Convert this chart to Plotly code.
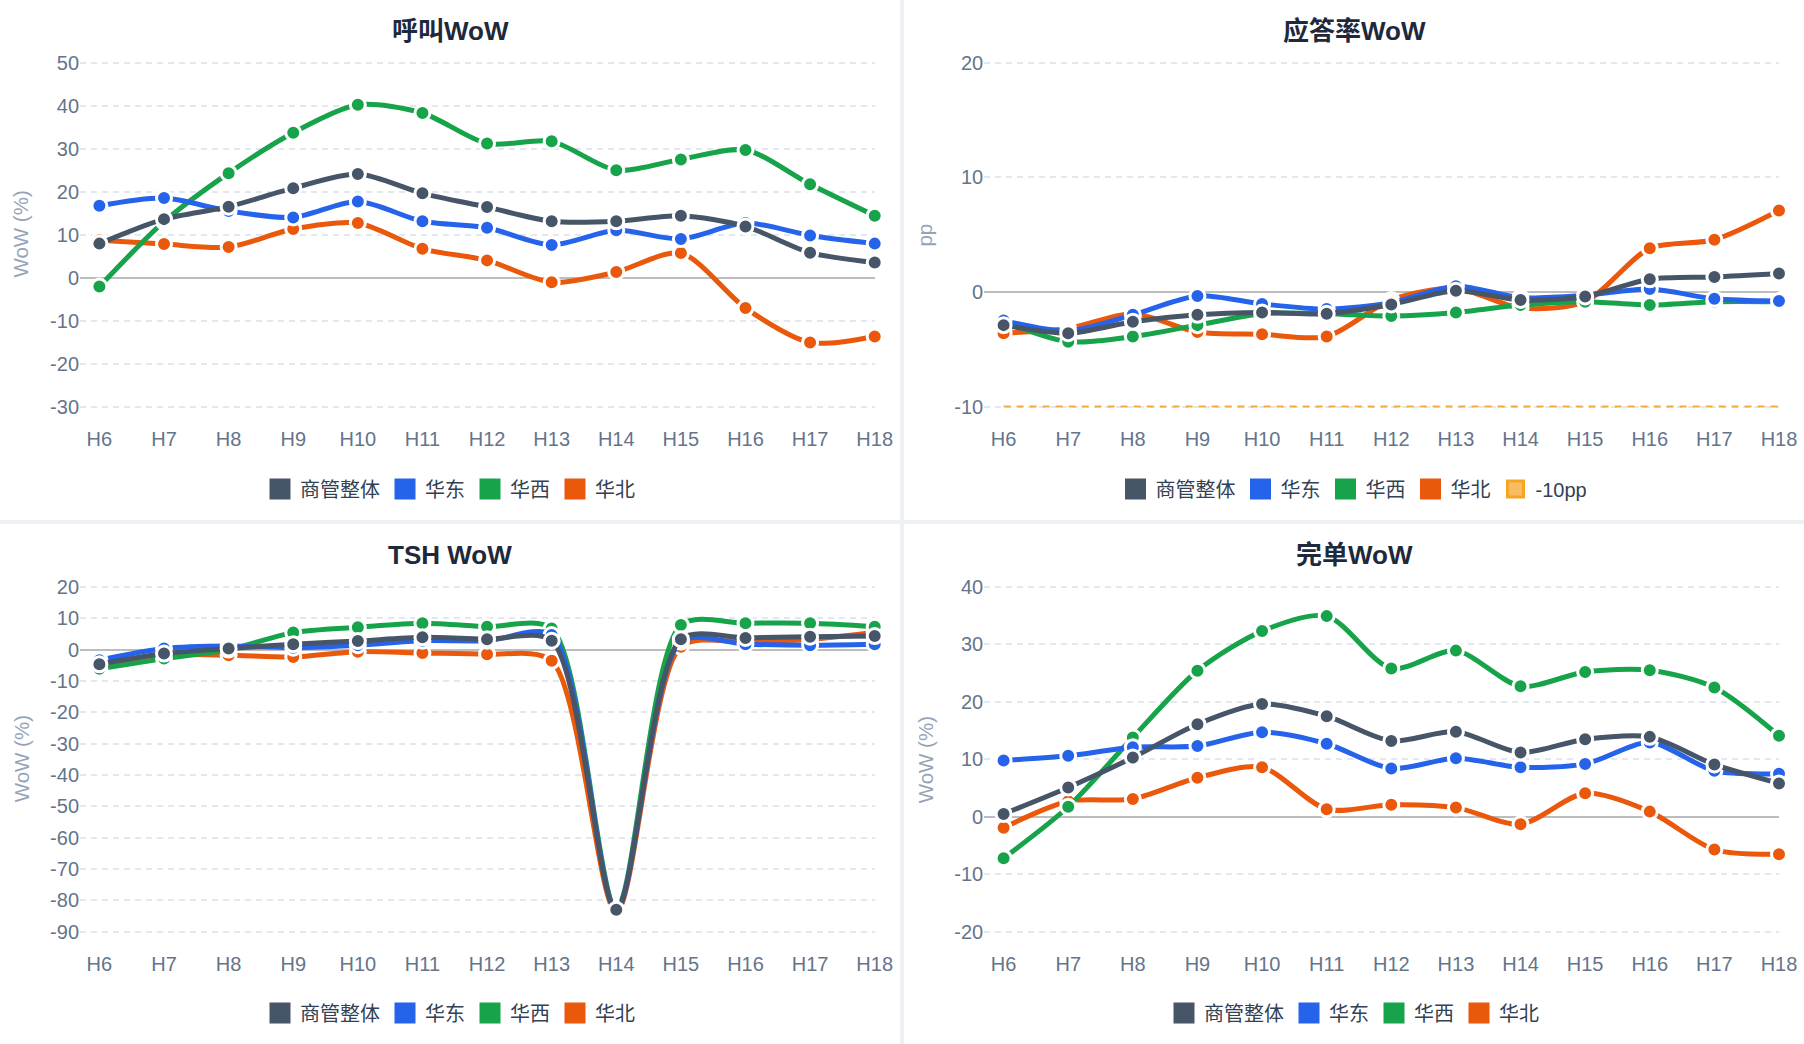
import plotly.graph_objects as go

# ---- data -------------------------------------------------------------
hours = ["H6", "H7", "H8", "H9", "H10", "H11", "H12", "H13", "H14", "H15", "H16", "H17", "H18"]
series_names = ["商管整体", "华东", "华西", "华北"]

call_total = [7.9, 13.6, 16.5, 20.8, 24.1, 19.6, 16.4, 13.1, 13.1, 14.4, 11.9, 5.8, 3.5]
call_east = [16.7, 18.5, 15.5, 14.0, 17.7, 13.1, 11.6, 7.6, 11.0, 9.0, 12.7, 9.8, 7.9]
call_west = [-2.1, 13.0, 24.3, 33.7, 40.2, 38.3, 31.2, 31.7, 25.0, 27.5, 29.7, 21.7, 14.4]
call_north = [8.7, 7.8, 7.1, 11.3, 12.7, 6.7, 4.0, -1.1, 1.3, 5.7, -7.1, -15.1, -13.7]

answer_total = [-2.9, -3.6, -2.6, -2.0, -1.8, -1.9, -1.1, 0.1, -0.7, -0.4, 1.1, 1.3, 1.6]
answer_east = [-2.5, -3.4, -2.0, -0.35, -1.05, -1.5, -0.95, 0.5, -0.5, -0.3, 0.25, -0.6, -0.8]
answer_west = [-2.6, -4.35, -3.9, -2.9, -1.9, -1.9, -2.1, -1.8, -1.15, -0.85, -1.15, -0.85, -0.85]
answer_north = [-3.6, -3.2, -1.9, -3.5, -3.7, -3.9, -0.7, 0.3, -1.4, -0.85, 3.8, 4.55, 7.1]
answer_floor = [-10] * 13

tsh_total = [-4.7, -1.3, 0.3, 1.7, 2.7, 3.9, 3.3, 2.8, -83.0, 3.3, 3.7, 4.1, 4.3]
tsh_east = [-3.4, 0.3, 1.1, 0.6, 1.4, 2.8, 2.8, 4.6, -83.0, 2.5, 1.7, 1.4, 1.7]
tsh_west = [-6.1, -2.9, 0.0, 5.4, 7.1, 8.4, 7.3, 6.7, -82.5, 7.8, 8.4, 8.4, 7.3]
tsh_north = [-5.4, -1.8, -1.8, -2.4, -0.7, -1.1, -1.5, -3.6, -83.6, 0.9, 2.5, 3.2, 5.5]

done_total = [0.5, 5.1, 10.3, 16.1, 19.6, 17.5, 13.2, 14.8, 11.2, 13.5, 13.9, 9.1, 5.8]
done_east = [9.8, 10.6, 12.1, 12.3, 14.7, 12.7, 8.4, 10.2, 8.6, 9.2, 12.9, 8.0, 7.5]
done_west = [-7.2, 1.75, 13.8, 25.4, 32.3, 34.9, 25.8, 28.9, 22.7, 25.2, 25.5, 22.5, 14.1]
done_north = [-1.9, 2.7, 3.1, 6.8, 8.6, 1.3, 2.1, 1.6, -1.3, 4.1, 0.9, -5.7, -6.5]

# ---- style ------------------------------------------------------------
W, H = 1804, 1044
colors = ["#475569", "#2563eb", "#16a34a", "#ea580c"]
floor_color = "#f5ab3c"
font = "Liberation Sans, Noto Sans CJK SC, sans-serif"
tick_color = "#64748b"

panels = [
    # title, series, y range, dtick, y-title, x px (H6, H18), y px (top, bottom)
    ("呼叫WoW", [call_total, call_east, call_west, call_north], (-30, 50), 10, "WoW (%)",
     (99.4, 874.7), (62.7, 406.5)),
    ("应答率WoW", [answer_total, answer_east, answer_west, answer_north], (-10, 20), 10, "pp",
     (1003.6, 1779.0), (62.7, 406.5)),
    ("TSH WoW", [tsh_total, tsh_east, tsh_west, tsh_north], (-90, 20), 10, "WoW (%)",
     (99.4, 874.7), (586.8, 931.8)),
    ("完单WoW", [done_total, done_east, done_west, done_north], (-20, 40), 10, "WoW (%)",
     (1003.6, 1779.0), (586.8, 931.8)),
]

fig = go.Figure()
layout = dict(
    width=W, height=H,
    margin=dict(l=0, r=0, t=0, b=0, pad=0, autoexpand=False),
    paper_bgcolor="#edf1f6",
    plot_bgcolor="rgba(0,0,0,0)",
    font=dict(family=font, color=tick_color),
    showlegend=True,
    shapes=[], annotations=[],
)

# white cards behind each chart
cards = [(0, 900, 0, 520), (904, W, 0, 520), (0, 900, 524, H), (904, W, 524, H)]
for x0, x1, y0, y1 in cards:
    layout["shapes"].append(dict(type="rect", xref="paper", yref="paper", layer="below",
                                 x0=x0 / W, x1=x1 / W, y0=1 - y1 / H, y1=1 - y0 / H,
                                 fillcolor="white", line_width=0))

pad = 3
for i, (title, data, (lo, hi), dtick, ytitle, (xa, xb), (ya, yb)) in enumerate(panels):
    n = i + 1
    sfx = "" if n == 1 else str(n)
    step = (xb - xa) / (len(hours) - 1)
    x_left = xa - 0.3 * step
    ppu = (yb - ya) / (hi - lo)
    # plain hyphen for negatives, as in the original chart
    yticks = list(range(lo, hi + 1, dtick))
    layout["xaxis" + sfx] = dict(
        domain=[x_left / W, xb / W], anchor="y" + sfx,
        range=[-0.3, len(hours) - 1], type="category",
        showgrid=False, zeroline=False, showline=False,
        ticks="outside", ticklen=11, tickcolor="rgba(0,0,0,0)",
        tickfont=dict(size=20, color=tick_color), fixedrange=True,
    )
    layout["yaxis" + sfx] = dict(
        domain=[1 - (yb + pad) / H, 1 - (ya - pad) / H], anchor="x" + sfx,
        range=[lo - pad / ppu, hi + pad / ppu],
        tickmode="array", tickvals=yticks, ticktext=[str(v) for v in yticks],
        showgrid=True, gridcolor="#e2e8f0", gridwidth=1.5, griddash="6px,5px",
        zeroline=True, zerolinecolor="#bdbdbd", zerolinewidth=2,
        showline=False, ticks="", tickfont=dict(size=20, color=tick_color),
        fixedrange=True,
    )
    cx = (cards[i][0] + cards[i][1]) / 2 / W
    top = cards[i][2]
    layout["annotations"].append(dict(
        text="<b>" + title + "</b>", xref="paper", yref="paper", x=cx, y=1 - (top + 31) / H,
        xanchor="center", yanchor="middle", showarrow=False,
        font=dict(size=26, color="#1e293b", family=font)))
    layout["annotations"].append(dict(
        text=ytitle, xref="paper", yref="paper", x=(cards[i][0] + 21) / W,
        y=1 - (ya + yb) / 2 / H, xanchor="center", yanchor="middle", textangle=-90,
        showarrow=False, font=dict(size=20.5, color="#94a3b8", family=font)))

    legend_name = "legend" if n == 1 else "legend" + str(n)
    layout[legend_name] = dict(
        orientation="h", x=cx, y=1 - (top + 489) / H, xanchor="center", yanchor="middle",
        bgcolor="rgba(0,0,0,0)", font=dict(size=20, color="#334155", family=font),
        itemclick=False, itemdoubleclick=False,
    )

    if n == 2:
        fig.add_trace(go.Scatter(
            x=hours, y=answer_floor, mode="lines", xaxis="x2", yaxis="y2",
            line=dict(color=floor_color, width=2, dash="7px,6px"),
            showlegend=False, hoverinfo="skip"))

    # draw the overall line last so it sits on top
    for k in [3, 2, 1, 0]:
        fig.add_trace(go.Scatter(
            x=hours, y=data[k], name=series_names[k], mode="lines+markers",
            xaxis="x" + sfx, yaxis="y" + sfx, legendgroup=f"{n}-{k}",
            line=dict(color=colors[k], width=5, shape="spline", smoothing=0.8),
            marker=dict(size=15, color=colors[k], line=dict(color="white", width=3)),
            cliponaxis=False, showlegend=False))

    # square legend keys
    for k in range(4):
        fig.add_trace(go.Scatter(
            x=[None], y=[None], name=series_names[k], mode="markers",
            xaxis="x" + sfx, yaxis="y" + sfx, legend=legend_name, legendgroup=f"{n}-{k}",
            marker=dict(symbol="square", size=16, color=colors[k],
                        line=dict(color=colors[k], width=5))))
    if n == 2:
        fig.add_trace(go.Scatter(
            x=[None], y=[None], name="-10pp", mode="markers", xaxis="x2", yaxis="y2",
            legend=legend_name,
            marker=dict(symbol="square", size=16, color="rgba(246,178,74,0.85)",
                        line=dict(color="#f5a524", width=3))))

fig.update_layout(**layout)
# the page has a default 8px body margin; drop it so the figure fills the window
fig.write_html("out.html", config={"displayModeBar": False},
               post_script="document.body.style.margin='0';")
